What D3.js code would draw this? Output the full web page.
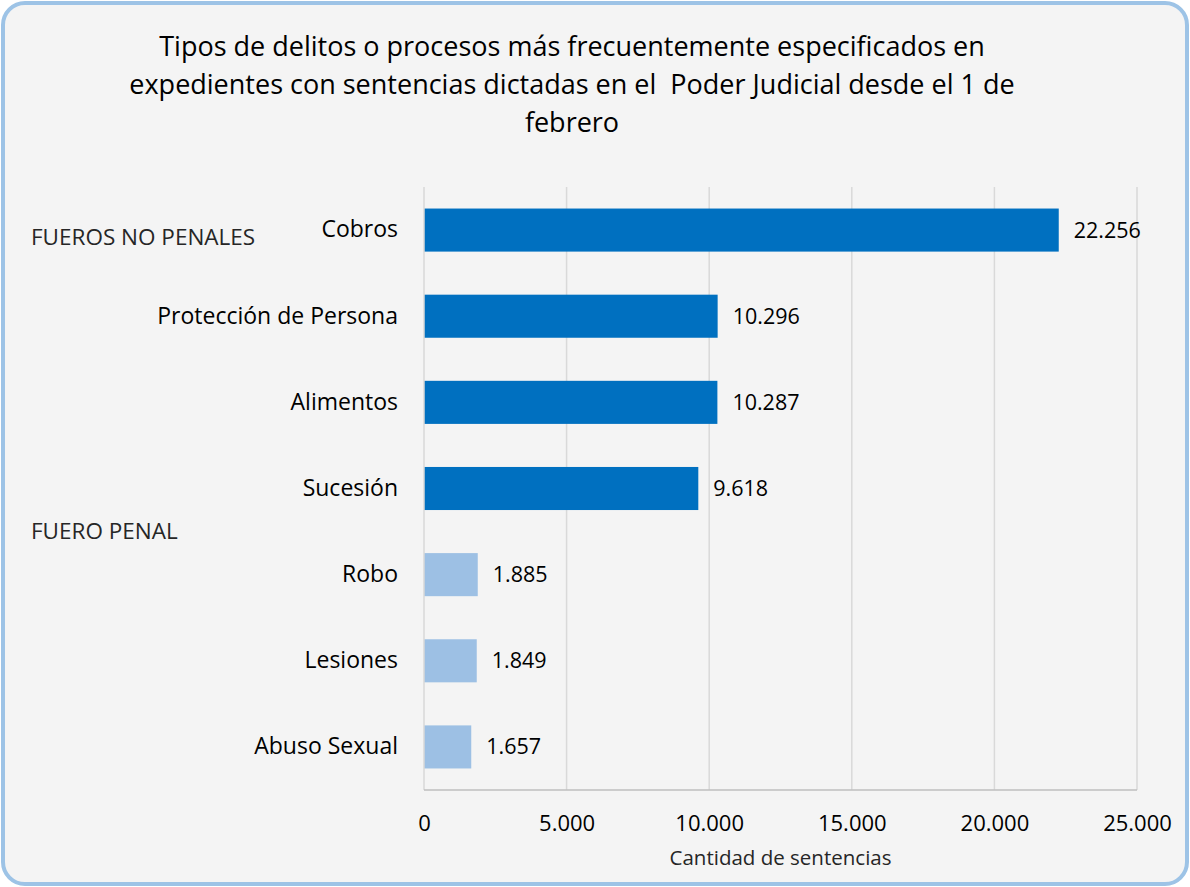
<!DOCTYPE html>
<html>
<head>
<meta charset="utf-8">
<script src="https://cdn.jsdelivr.net/npm/d3@7"></script>
<style>
  body { margin: 0; background: #ffffff; }
  svg text { font-family: "Open Sans", Lato, sans-serif; }
</style>
</head>
<body>
<div id="chart"></div>
<script>
// chart data
var categories = ["Cobros", "Protección de Persona", "Alimentos", "Sucesión", "Robo", "Lesiones", "Abuso Sexual"];
var values = [22256, 10296, 10287, 9618, 1885, 1849, 1657];
var groups = ["no penal", "no penal", "no penal", "no penal", "penal", "penal", "penal"];
var tickValues = [0, 5000, 10000, 15000, 20000, 25000];
var titleLines = ["Tipos de delitos o procesos más frecuentemente especificados en",
                  "expedientes con sentencias dictadas en el  Poder Judicial desde el 1 de",
                  "febrero"];

var width = 1190, height = 887;
var margin = {top: 187, left: 424, right: 53, bottom: 97};

var svg = d3.select("#chart").append("svg")
    .attr("width", width)
    .attr("height", height);

// frame + background
svg.append("rect")
    .attr("x", 3).attr("y", 3)
    .attr("width", width - 6).attr("height", height - 6)
    .attr("rx", 22).attr("ry", 22)
    .attr("fill", "#f4f4f4")
    .attr("stroke", "#9dc3e6")
    .attr("stroke-width", 4);

var x = d3.scaleLinear()
    .domain([0, 25000])
    .range([margin.left, width - margin.right]);

var y = d3.scaleBand()
    .domain(categories)
    .range([margin.top, height - margin.bottom])
    .paddingInner(0.5)
    .paddingOuter(0.25);

var fmt = function(v){ return d3.format(",")(v).replace(/,/g, "."); };

// gridlines
svg.append("g")
    .selectAll("line")
    .data(tickValues.slice(1))
    .enter().append("line")
    .attr("x1", function(d){ return x(d); })
    .attr("x2", function(d){ return x(d); })
    .attr("y1", margin.top)
    .attr("y2", height - margin.bottom)
    .attr("stroke", "#d9d9d9")
    .attr("stroke-width", 1.5);

// bars
svg.append("g")
    .selectAll("rect")
    .data(categories)
    .enter().append("rect")
    .attr("x", x(0))
    .attr("y", function(d){ return y(d); })
    .attr("width", function(d, i){ return x(values[i]) - x(0); })
    .attr("height", y.bandwidth())
    .attr("fill", function(d, i){ return groups[i] == "penal" ? "#9dc0e4" : "#0070c0"; });

// axis line (left + bottom)
svg.append("line")
    .attr("x1", x(0)).attr("x2", x(0))
    .attr("y1", margin.top).attr("y2", height - margin.bottom)
    .attr("stroke", "#d9d9d9").attr("stroke-width", 1.5);
svg.append("line")
    .attr("x1", x(0)).attr("x2", x(25000))
    .attr("y1", height - margin.bottom).attr("y2", height - margin.bottom)
    .attr("stroke", "#bfbfbf").attr("stroke-width", 1.5);

// x axis tick labels
var xAxis = d3.axisBottom(x)
    .tickValues(tickValues)
    .tickSize(0)
    .tickPadding(25)
    .tickFormat(fmt);
var gx = svg.append("g")
    .attr("transform", "translate(0," + (height - margin.bottom) + ")")
    .call(xAxis);
gx.select(".domain").remove();
gx.selectAll("text")
    .attr("font-size", 22)
    .attr("fill", "#000");

// category labels
var yAxis = d3.axisLeft(y).tickSize(0).tickPadding(26);
var gy = svg.append("g")
    .attr("transform", "translate(" + x(0) + ",0)")
    .call(yAxis);
gy.select(".domain").remove();
gy.selectAll("text")
    .attr("font-size", 23)
    .attr("fill", "#000");

// value labels
svg.append("g")
    .selectAll("text")
    .data(categories)
    .enter().append("text")
    .attr("x", function(d, i){ return x(values[i]) + 15; })
    .attr("y", function(d){ return y(d) + y.bandwidth() / 2; })
    .attr("dy", "0.35em")
    .attr("font-size", 21.5)
    .text(function(d, i){ return fmt(values[i]); });

// group labels
svg.append("text")
    .attr("x", 31).attr("y", 245)
    .attr("font-size", 22.5).attr("fill", "#262626")
    .text("FUEROS NO PENALES");
svg.append("text")
    .attr("x", 31).attr("y", 539)
    .attr("font-size", 22.5).attr("fill", "#262626")
    .text("FUERO PENAL");

// axis title
svg.append("text")
    .attr("x", (x(0) + x(25000)) / 2)
    .attr("y", 865)
    .attr("text-anchor", "middle")
    .attr("font-size", 20.5)
    .attr("fill", "#262626")
    .text("Cantidad de sentencias");

// chart title
svg.append("g")
    .selectAll("text")
    .data(titleLines)
    .enter().append("text")
    .attr("x", 572)
    .attr("y", function(d, i){ return 56 + i * 38; })
    .attr("text-anchor", "middle")
    .attr("font-size", 27)
    .attr("fill", "#000")
    .style("white-space", "pre")
    .text(function(d){ return d; });
</script>
</body>
</html>
